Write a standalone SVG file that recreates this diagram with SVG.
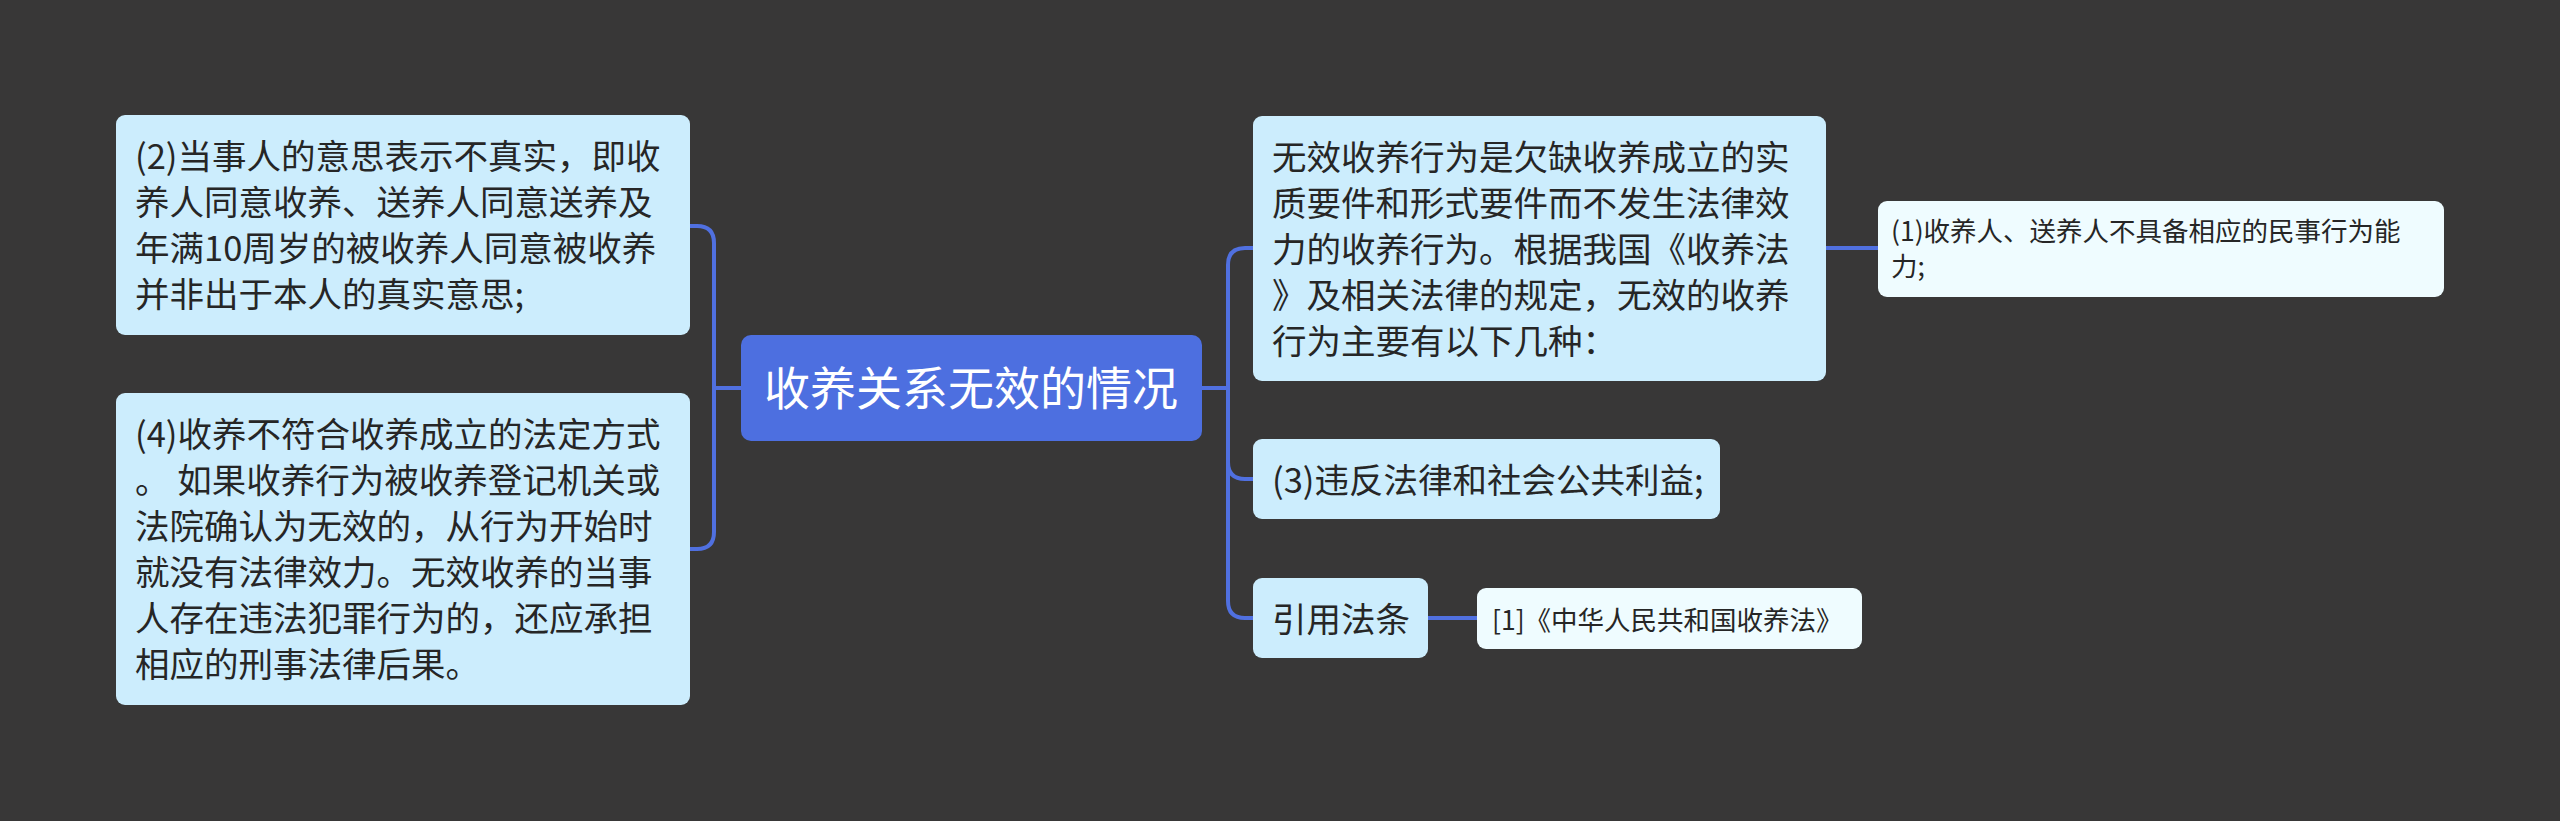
<svg xmlns="http://www.w3.org/2000/svg" width="2560" height="821" viewBox="0 0 2560 821">
<style>
  .bg { fill: #383737; }
  .root { fill: #4d6fe0; }
  .main { fill: #ccedfd; }
  .leaf { fill: #effcff; }
  .edge { fill: none; stroke: #5070e0; stroke-width: 4; stroke-linecap: butt; }
  text { font-family: "Noto Sans CJK SC", "Noto Sans", sans-serif; }
  .t { font-size: 34.5px; fill: #262626; }
  .ts { font-size: 26.5px; fill: #262626; }
  .tr { font-size: 46px; fill: #ffffff; }
</style>
<rect class="bg" x="0" y="0" width="2560" height="821"/>

<g id="connectors">
  <path class="edge" d="M 741 388 H 714"/>
  <path class="edge" d="M 714 388 V 243 Q 714 226 697 226 H 690"/>
  <path class="edge" d="M 714 388 V 532 Q 714 549 697 549 H 690"/>
  <path class="edge" d="M 1202 388 H 1228"/>
  <path class="edge" d="M 1228 388 V 265 Q 1228 248 1245 248 H 1253"/>
  <path class="edge" d="M 1228 388 V 462 Q 1228 479 1245 479 H 1253"/>
  <path class="edge" d="M 1228 388 V 601 Q 1228 618 1245 618 H 1253"/>
  <path class="edge" d="M 1826 248 H 1878"/>
  <path class="edge" d="M 1428 618 H 1477"/>
</g>

<g id="root">
  <rect class="root" x="741" y="335" width="461" height="106" rx="10"/>
  <text class="tr" x="764" y="405">收养关系无效的情况</text>
</g>

<g id="node-2">
  <rect class="main" x="116" y="115" width="574" height="220" rx="9"/>
  <text class="t" x="135" y="169">(2)当事人的意思表示不真实，即收</text>
  <text class="t" x="135" y="215">养人同意收养、送养人同意送养及</text>
  <text class="t" x="135" y="261">年满10周岁的被收养人同意被收养</text>
  <text class="t" x="135" y="307">并非出于本人的真实意思;</text>
</g>

<g id="node-4">
  <rect class="main" x="116" y="393" width="574" height="312" rx="9"/>
  <text class="t" x="135" y="447">(4)收养不符合收养成立的法定方式</text>
  <text class="t" x="135" y="493">。 如果收养行为被收养登记机关或</text>
  <text class="t" x="135" y="539">法院确认为无效的，从行为开始时</text>
  <text class="t" x="135" y="585">就没有法律效力。无效收养的当事</text>
  <text class="t" x="135" y="631">人存在违法犯罪行为的，还应承担</text>
  <text class="t" x="135" y="677">相应的刑事法律后果。</text>
</g>

<g id="node-intro">
  <rect class="main" x="1253" y="116" width="573" height="265" rx="9"/>
  <text class="t" x="1272" y="170">无效收养行为是欠缺收养成立的实</text>
  <text class="t" x="1272" y="216">质要件和形式要件而不发生法律效</text>
  <text class="t" x="1272" y="262">力的收养行为。根据我国《收养法</text>
  <text class="t" x="1272" y="308">》及相关法律的规定，无效的收养</text>
  <text class="t" x="1272" y="354">行为主要有以下几种：</text>
</g>

<g id="node-1">
  <rect class="leaf" x="1878" y="201" width="566" height="96" rx="9"/>
  <text class="ts" x="1891" y="241">(1)收养人、送养人不具备相应的民事行为能</text>
  <text class="ts" x="1891" y="276">力;</text>
</g>

<g id="node-3">
  <rect class="main" x="1253" y="439" width="467" height="80" rx="9"/>
  <text class="t" x="1272" y="493">(3)违反法律和社会公共利益;</text>
</g>

<g id="node-cite">
  <rect class="main" x="1253" y="578" width="175" height="80" rx="9"/>
  <text class="t" x="1272" y="632">引用法条</text>
</g>

<g id="node-law">
  <rect class="leaf" x="1477" y="588" width="385" height="61" rx="9"/>
  <text class="ts" x="1492" y="630">[1]《中华人民共和国收养法》</text>
</g>
</svg>
